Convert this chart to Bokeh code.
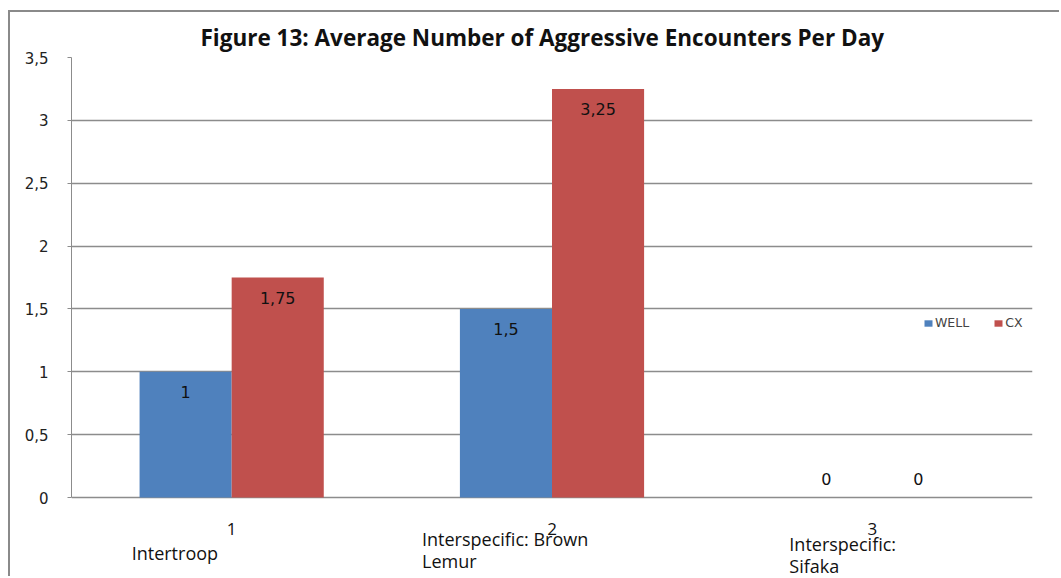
from bokeh.plotting import figure
from bokeh.models import ColumnDataSource, Range1d, FixedTicker, Legend, LegendItem
from bokeh.core.properties import value
from bokeh.embed import file_html
from bokeh.resources import INLINE

# ---- data ----
categories = ["1", "2", "3"]
category_names = ["Intertroop", "Interspecific: Brown\nLemur", "Interspecific:\nSifaka"]
well = [1.0, 1.5, 0.0]
cx = [1.75, 3.25, 0.0]
well_labels = ["1", "1,5", "0"]
cx_labels = ["1,75", "3,25", "0"]
y_ticks = [0, 0.5, 1, 1.5, 2, 2.5, 3, 3.5]
y_tick_labels = ["0", "0,5", "1", "1,5", "2", "2,5", "3", "3,5"]

BLUE = "#4F81BD"
RED = "#C0504D"
GRID = "#8c8c8c"

xs = [i + 1 for i in range(len(categories))]
bw = 0.2875
PX_PER_UNIT = 440 / 3.5      # frame pixels per y unit
BELOW_PX = 81                 # room under the zero line for category texts

p = figure(width=1051, height=566, output_backend="svg", toolbar_location=None,
           x_range=Range1d(0.5, 3.5), y_range=Range1d(-BELOW_PX / PX_PER_UNIT, 3.5),
           min_border_left=61, min_border_right=29, min_border_top=45, min_border_bottom=0)
p.styles = {"margin-left": "8px", "margin-top": "10px",
            "border-left": "2px solid #8a8a8a", "border-top": "2px solid #8a8a8a"}
p.background_fill_color = "white"
p.border_fill_color = "white"
p.outline_line_color = None

src_w = ColumnDataSource(dict(x=[x - bw / 2 for x in xs], top=well, lab=well_labels,
                              off=[20 if v > 0 else -19 for v in well]))
src_c = ColumnDataSource(dict(x=[x + bw / 2 for x in xs], top=cx, lab=cx_labels,
                              off=[20 if v > 0 else -19 for v in cx]))

rw = p.vbar(x="x", top="top", width=bw, bottom=0, source=src_w, fill_color=BLUE, line_color=None)
rc = p.vbar(x="x", top="top", width=bw, bottom=0, source=src_c, fill_color=RED, line_color=None)

for s in (src_w, src_c):
    p.text(x="x", y="top", text="lab", source=s, y_offset="off",
           text_align="center", text_baseline="middle",
           text_font_size="16px", text_font=value("DejaVu Sans"), text_color="#111111")

# y axis
p.yaxis.ticker = FixedTicker(ticks=y_ticks)
p.yaxis.bounds = (0, 3.5)
p.yaxis.major_label_overrides = {t: l for t, l in zip(y_ticks, y_tick_labels)}
p.yaxis.minor_tick_line_color = None
p.yaxis.major_tick_in = 0
p.yaxis.major_tick_out = 4
p.yaxis.major_tick_line_color = GRID
p.yaxis.axis_line_color = GRID
p.yaxis.major_label_standoff = 19
p.yaxis.major_label_text_font = "DejaVu Sans"
p.yaxis.major_label_text_font_size = "15px"
p.yaxis.major_label_text_color = "#222222"

p.xaxis.visible = False
p.xgrid.grid_line_color = None
p.ygrid.ticker = FixedTicker(ticks=y_ticks)
p.ygrid.grid_line_color = GRID
p.ygrid.grid_line_width = 1.5

# category numbers under the zero line
src_cat = ColumnDataSource(dict(x=xs, y=[0] * len(xs), t=categories))
p.text(x="x", y="y", text="t", source=src_cat, y_offset=31,
       text_align="center", text_baseline="middle",
       text_font=value("Open Sans"), text_font_size="17px", text_color="#111111")

# category names (offset like the original text boxes)
src_names = ColumnDataSource(dict(x=xs, y=[0] * len(xs), t=category_names,
                                  dx=[-100, -130, -83], dy=[43, 29, 34]))
p.text(x="x", y="y", text="t", source=src_names, x_offset="dx", y_offset="dy",
       text_align="left", text_baseline="top", text_line_height=0.95,
       text_font=value("Open Sans"), text_font_size="18px", text_color="#111111")

# title
p.title.text = "Figure 13: Average Number of Aggressive Encounters Per Day"
p.title.align = "left"
p.title.offset = 129
p.title.text_font = "Open Sans"
p.title.text_font_style = "bold"
p.title.text_font_size = "22.5px"
p.title.text_color = "#111111"

# legend
legend = Legend(items=[LegendItem(label="WELL", renderers=[rw]),
                       LegendItem(label="CX", renderers=[rc])],
                orientation="horizontal", location=(852, 248),
                glyph_width=10, glyph_height=8, label_text_font="DejaVu Sans",
                label_text_font_size="12.5px", label_standoff=2, spacing=24,
                padding=0, margin=0, border_line_color=None,
                background_fill_alpha=0)
p.add_layout(legend)

open("out.html", "w").write(file_html(p, INLINE))
